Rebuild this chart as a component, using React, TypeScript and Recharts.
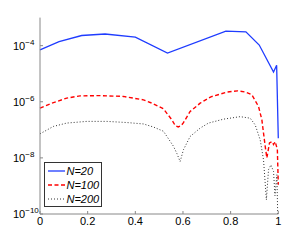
import React from "react";
import { LineChart, Line, XAxis, YAxis, Legend } from "recharts";

// N=20 (solid blue)
const n20X = [0, 0.08, 0.175, 0.273, 0.4, 0.535, 0.78, 0.864, 0.92, 0.98, 0.993, 1];
const n20Y = [7.1e-5, 1.4e-4, 2.3e-4, 2.6e-4, 2.0e-4, 5.4e-5, 3.3e-4, 3.1e-4, 1.05e-4, 1.15e-5, 2.0e-5, 5e-8];

// N=100 (dashed red)
const n100X = [0, 0.05, 0.112, 0.168, 0.252, 0.35, 0.434, 0.47, 0.518, 0.553, 0.568, 0.58, 0.592, 0.602, 0.63, 0.672, 0.717, 0.787, 0.829, 0.861, 0.889, 0.917, 0.931, 0.938, 0.945, 0.952, 0.963, 0.974, 0.98, 0.987, 0.996, 1];
const n100Y = [5.9e-7, 8.9e-7, 1.35e-6, 1.62e-6, 1.66e-6, 1.55e-6, 1.17e-6, 8.9e-7, 5.6e-7, 2.3e-7, 1.4e-7, 1.26e-7, 1.4e-7, 1.8e-7, 4.5e-7, 8.9e-7, 1.5e-6, 2.24e-6, 2.45e-6, 2.24e-6, 1.78e-6, 6.8e-7, 2.3e-7, 7.6e-8, 2.6e-8, 1.0e-8, 3.4e-8, 3.8e-8, 3.0e-8, 3.8e-8, 2.0e-8, 1.1e-9];

// N=200 (dotted black)
const n200X = [0, 0.056, 0.112, 0.196, 0.28, 0.364, 0.434, 0.476, 0.518, 0.56, 0.575, 0.588, 0.602, 0.63, 0.672, 0.707, 0.77, 0.84, 0.882, 0.903, 0.924, 0.938, 0.95, 0.959, 0.969, 0.98, 0.986, 0.994, 1];
const n200Y = [7.2e-8, 1.32e-7, 1.74e-7, 2.0e-7, 2.0e-7, 1.82e-7, 1.62e-7, 1.26e-7, 8.9e-8, 2.6e-8, 1.4e-8, 7.4e-9, 1.95e-8, 5.8e-8, 1.15e-7, 1.74e-7, 2.4e-7, 2.95e-7, 2.6e-7, 1.5e-7, 4.4e-8, 8.5e-9, 3.2e-10, 3.8e-9, 5.6e-9, 3.3e-9, 4.5e-10, 2.5e-9, 1e-11];

const xTicks = [0, 0.2, 0.4, 0.6, 0.8, 1];
const yTicks = [1e-10, 1e-8, 1e-6, 1e-4];

const zip = (xs: number[], ys: number[]) => xs.map((x, i) => ({ x, y: ys[i] }));

const SERIES = [
  { name: "N=20", data: zip(n20X, n20Y), color: "#1f3cff", dash: undefined, width: 1.3 },
  { name: "N=100", data: zip(n100X, n100Y), color: "#ff0000", dash: "4 2.5", width: 1.4 },
  { name: "N=200", data: zip(n200X, n200Y), color: "#333333", dash: "1 2", width: 1 },
];

const AXIS = "#888888";
const FONT = "'Liberation Sans', Arial, sans-serif";

const BottomTick = ({ x, y, payload }: any) => (
  <g>
    <line x1={x} y1={y} x2={x} y2={y - 3} stroke={AXIS} />
    <text x={x} y={y + 11} textAnchor="middle" fontSize={11} fontFamily={FONT} fill="#000">
      {payload.value}
    </text>
  </g>
);

const TopTick = ({ x, y }: any) => <line x1={x} y1={y} x2={x} y2={y + 3} stroke={AXIS} />;

const LeftTick = ({ x, y, payload }: any) => {
  const exp = Math.round(Math.log10(payload.value));
  return (
    <g>
      <line x1={x} y1={y} x2={x + 3} y2={y} stroke={AXIS} />
      <text x={x - 27} y={y + 4} fontSize={11} fontFamily={FONT} fill="#000">
        <tspan>10</tspan>
        <tspan dy={-5} fontSize={8}>{"\u2212" + Math.abs(exp)}</tspan>
      </text>
    </g>
  );
};

const RightTick = ({ x, y }: any) => <line x1={x} y1={y} x2={x - 3} y2={y} stroke={AXIS} />;

const LegendBox = () => (
  <div style={{ width: 58, height: 45, border: "1px solid #333", background: "#fff", boxSizing: "border-box" }}>
    <svg width={56} height={43} style={{ display: "block" }}>
      {SERIES.map((s, i) => (
        <g key={s.name}>
          <line x1={3} x2={20} y1={8 + i * 14} y2={8 + i * 14} stroke={s.color} strokeWidth={s.width} strokeDasharray={s.dash} />
          <text x={21.5} y={12 + i * 14} fontSize={11} fontStyle="italic" fontFamily={FONT} fill="#000">
            {s.name}
          </text>
        </g>
      ))}
    </svg>
  </div>
);

export default function App() {
  return (
    <div style={{ position: "absolute", left: 0, top: 0, width: 308, height: 241, background: "#fff" }}>
      <LineChart width={308} height={241} margin={{ top: 17.6, right: 29.7, left: 0, bottom: 0 }}>
        <XAxis xAxisId="b" dataKey="x" type="number" domain={[0, 1]} ticks={xTicks} interval={0}
          height={27} stroke={AXIS} tickLine={false} tickSize={0} tickMargin={0} tick={<BottomTick />} />
        <XAxis xAxisId="t" orientation="top" type="number" domain={[0, 1]} ticks={xTicks} interval={0}
          height={0} stroke={AXIS} tickLine={false} tickSize={0} tickMargin={0} tick={<TopTick />} />
        <YAxis yAxisId="l" scale="log" type="number" domain={[1e-10, 1e-3]} allowDataOverflow ticks={yTicks} interval={0}
          width={40} stroke={AXIS} tickLine={false} tickSize={0} tickMargin={0} tick={<LeftTick />} />
        <YAxis yAxisId="r" orientation="right" scale="log" type="number" domain={[1e-10, 1e-3]} allowDataOverflow ticks={yTicks} interval={0}
          width={0} stroke={AXIS} tickLine={false} tickSize={0} tickMargin={0} tick={<RightTick />} />
        {SERIES.map((s) => (
          <Line key={s.name} xAxisId="b" yAxisId="l" data={s.data} dataKey="y" name={s.name} type="linear"
            stroke={s.color} strokeWidth={s.width} strokeDasharray={s.dash} dot={false} isAnimationActive={false} />
        ))}
        <Legend layout="horizontal" verticalAlign="middle" align="center" content={<LegendBox />}
          wrapperStyle={{ left: 44, top: 162, width: 58, height: 45 }} />
      </LineChart>
    </div>
  );
}
